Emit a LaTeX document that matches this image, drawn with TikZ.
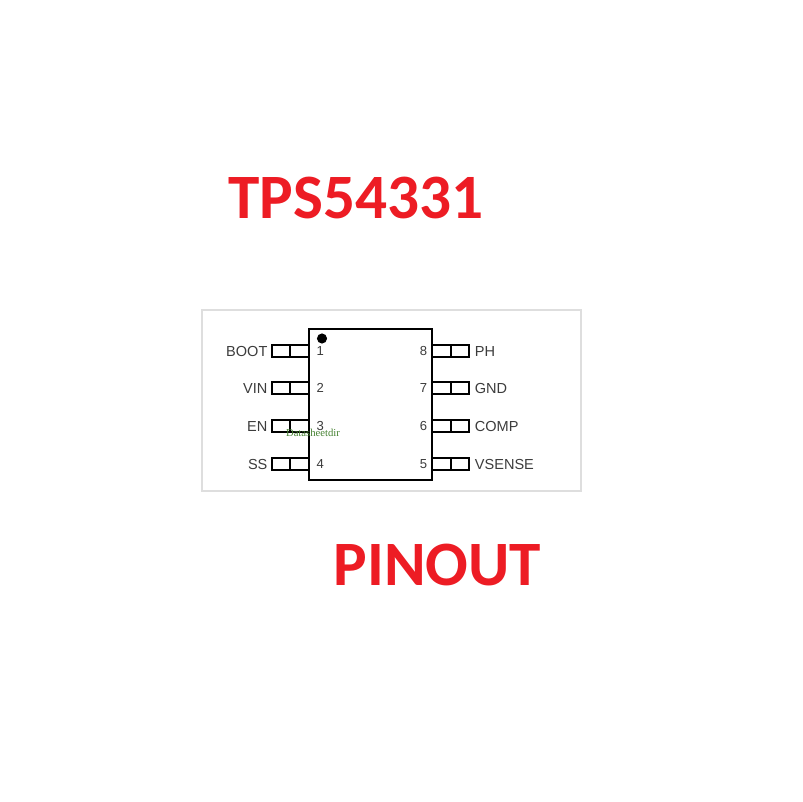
\documentclass[tikz,border=0pt]{standalone}
\usepackage{fontspec}
\setmainfont{Liberation Sans}
\newfontfamily\titlefont{Carlito}
\newfontfamily\markfont{Liberation Serif}
\usetikzlibrary{positioning}
\definecolor{titlered}{RGB}{237,28,36}
\definecolor{framegray}{RGB}{222,222,222}
\definecolor{pintext}{RGB}{60,60,60}
\definecolor{markgreen}{RGB}{70,130,50}
\begin{document}
\begin{tikzpicture}[x=0.75pt,y=-0.75pt,
		titletext/.style={text=titlered,font=\titlefont\bfseries\fontsize{47.4}{47.4}\selectfont,inner sep=0pt},
		frame/.style={draw=framegray,line width=1.4pt,fill=white,inner sep=0pt,minimum width=284pt,minimum height=135.5pt},
		chip/.style={draw,line width=1.5pt,inner sep=0pt,minimum width=92pt,minimum height=113pt},
		pincell/.style={draw,line width=1.4pt,inner sep=0pt,outer sep=0pt,minimum width=14pt,minimum height=8.8pt},
		pinname/.style={text=pintext,font=\fontsize{10.9}{10.9}\selectfont,inner sep=0pt},
		pinnum/.style={text=pintext,font=\fontsize{9.8}{9.8}\selectfont,inner sep=0pt},
		dot/.style={circle,fill=black,inner sep=0pt,minimum size=7.6pt}]
		\useasboundingbox[fill=white] (0,0) rectangle (802,802);
		\node[titletext] (title) at (356,198) {TPS54331};
		\node[titletext] (pinout) at (437.5,565) {PINOUT};
		\node[frame] (box) at (391.5,400.5) {};
		\node[chip] (ic) at (370.5,404.5) {};
		\node[dot] (pin1dot) at (322,338.5) {};
		% left side pins
		\foreach \n/\name/\ypos in {1/BOOT/351,2/VIN/388,3/EN/426,4/SS/464}
		{
			\node[pincell,anchor=east] (li\n) at (309,\ypos) {};
			\node[pincell,anchor=east] (lo\n) at (li\n.west) {};
			\node[pinname,left=3pt of lo\n] (lname\n) {\name};
			\node[pinnum,right=5.5pt of li\n] (lnum\n) {\n};
		}
		% right side pins
		\foreach \n/\name/\ypos in {8/PH/351,7/GND/388,6/COMP/426,5/VSENSE/464}
		{
			\node[pincell,anchor=west] (ri\n) at (432,\ypos) {};
			\node[pincell,anchor=west] (ro\n) at (ri\n.east) {};
			\node[pinname,right=4pt of ro\n] (rname\n) {\name};
			\node[pinnum,left=3.5pt of ri\n] (rnum\n) {\n};
		}
		\node[text=markgreen,font=\markfont\fontsize{8}{8}\selectfont,inner sep=0pt] (wmark) at (313,433) {Datasheetdir};
\end{tikzpicture}
\end{document}
